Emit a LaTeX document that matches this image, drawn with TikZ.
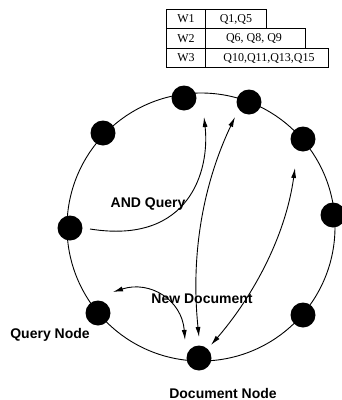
\documentclass[tikz,border=0pt]{standalone}
\usepackage{fontspec}
\setmainfont{Liberation Serif}
\newfontfamily\labfont{Liberation Sans}
\usetikzlibrary{arrows.meta}
\tikzset{
  peer/.style={circle,fill=black,inner sep=0pt,minimum size=25pt},
  ring/.style={line width=0.9pt},
  msg/.style={line width=0.9pt,-{Latex[length=10pt,width=5pt]}},
  msgboth/.style={line width=0.9pt,{Latex[length=10pt,width=5pt]}-{Latex[length=10pt,width=5pt]}},
  lab/.style={font=\labfont\bfseries\fontsize{14}{16}\selectfont,inner sep=0pt},
  cell/.style={draw,line width=0.9pt},
  celltxt/.style={font=\fontsize{12}{14}\selectfont,inner sep=0pt}
}
\begin{document}
\begin{tikzpicture}[x=1pt,y=-1pt]
\useasboundingbox (0,0) rectangle (341,400);

% index table: keyword -> queries
\draw[cell] (166,9) rectangle (266,28.5);
\draw[cell] (166,28.5) rectangle (305,48);
\draw[cell] (166,48) rectangle (328,67.5);
\draw[cell] (205.5,9) -- (205.5,67.5);
\node[celltxt] (w1) at (186,19) {W1};
\node[celltxt] (w2) at (186,38.5) {W2};
\node[celltxt] (w3) at (186,58) {W3};
\node[celltxt] (q1) at (236,19) {Q1,Q5};
\node[celltxt] (q2) at (254,38.5) {Q6, Q8, Q9};
\node[celltxt] (q3) at (269,58) {Q10,Q11,Q13,Q15};

% overlay ring
\draw[ring] (201,227) circle (134);

% peers on the ring
\node[peer] (ntop)   at (184,98)  {};
\node[peer] (ntopr)  at (249,102) {};
\node[peer] (nright1) at (303,139) {};
\node[peer] (nright2) at (333,215) {};
\node[peer] (nleft1) at (103,133) {};
\node[peer] (nleft2) at (70,228)  {};
\node[peer] (query)  at (98,313)  {};
\node[peer] (doc)    at (199,358) {};
\node[peer] (nright3) at (303,315) {};

% endpoints of the message arrows
\coordinate (a1s) at (90,229);
\coordinate (a1e) at (204,117);
\coordinate (a2s) at (199,337);
\coordinate (a2e) at (235,117);
\coordinate (a3s) at (295,168);
\coordinate (a3e) at (211,345);
\coordinate (a4s) at (113,292);
\coordinate (a4e) at (185,340);

% labels
\node[lab] (andq) at (148,204) {AND Query};
\node[lab] (newd) at (202,299) {New Document};
\node[lab] (qlab) at (50,335) {Query Node};
\node[lab,anchor=base] (dlab) at (223,398) {Document Node};

% messages
\draw[msg] (a1s) .. controls (190,245) and (210,170) .. (a1e);
\draw[msgboth] (a2s) .. controls (190,250) and (205,180) .. (a2e);
\draw[msgboth] (a3s) .. controls (285,240) and (250,300) .. (a3e);
\draw[msgboth] (a4s) .. controls (150,280) and (182,300) .. (a4e);
\end{tikzpicture}
\end{document}
